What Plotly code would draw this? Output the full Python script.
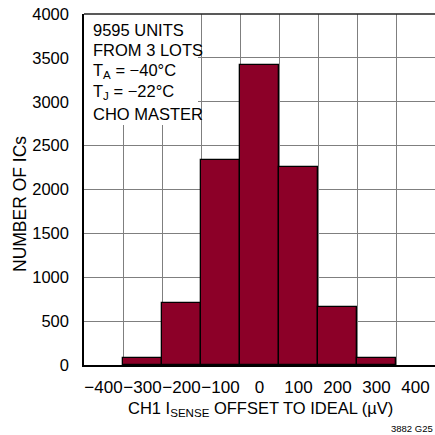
import plotly.graph_objects as go

# Data
bin_centers = [-300, -200, -100, 0, 100, 200, 300]
counts = [76, 703, 2340, 3415, 2260, 662, 76]
x_tick_vals = [-400, -300, -200, -100, 0, 100, 200, 300, 400]
x_tick_text = ["\u2212400", "\u2212300", "\u2212200", "\u2212100", "0", "100", "200", "300", "400"]
x_grid_vals = [-350, -250, -150, -50, 50, 150, 250, 350]
y_tick_vals = [0, 500, 1000, 1500, 2000, 2500, 3000, 3500, 4000]
info_lines = ["9595 UNITS", "FROM 3 LOTS", "T<sub>A</sub> = \u221240\u00b0C",
              "T<sub>J</sub> = \u221222\u00b0C", "CHO MASTER"]

FONT = "Liberation Sans, Arial, sans-serif"
BAR = "#8C0028"
GRID = "#7f7f7f"

L, T, W, H = 84, 14, 351, 351

def px_x(px):
    return (px - L) / W

def px_y(py):
    return (T + H - py) / H

fig = go.Figure()
fig.add_trace(go.Bar(
    x=bin_centers, y=counts, width=100,
    marker=dict(color=BAR, line=dict(color="black", width=1.3)),
    hoverinfo="skip",
))

# white box behind info text
fig.add_shape(type="rect", xref="paper", yref="paper",
              x0=0, x1=px_x(198), y0=px_y(125), y1=1,
              fillcolor="white", line=dict(width=0), layer="above")

line_y = [30, 50, 71, 92, 114]
for txt, yy in zip(info_lines, line_y):
    fig.add_annotation(text=txt, xref="paper", yref="paper",
                       x=px_x(91), y=px_y(yy), xanchor="left", yanchor="middle",
                       showarrow=False, font=dict(family=FONT, size=16.5, color="black"))

fig.add_annotation(text="NUMBER OF ICs", xref="paper", yref="paper",
                   x=px_x(20), y=px_y(204), textangle=-90,
                   xanchor="center", yanchor="middle", showarrow=False,
                   font=dict(family=FONT, size=17.5, color="black"))
fig.add_annotation(text="CH1 I<sub>SENSE</sub> OFFSET TO IDEAL (\u00b5V)", xref="paper", yref="paper",
                   x=px_x(260), y=px_y(409), xanchor="center", yanchor="middle",
                   showarrow=False, font=dict(family=FONT, size=16.5, color="black"))
fig.add_annotation(text="3882 G25", xref="paper", yref="paper",
                   x=px_x(435), y=px_y(428), xanchor="right", yanchor="middle",
                   showarrow=False, font=dict(family=FONT, size=9.5, color="black"))

fig.update_layout(
    width=435, height=435,
    margin=dict(l=L, r=435 - L - W, t=T, b=435 - T - H, pad=0),
    paper_bgcolor="white", plot_bgcolor="white",
    showlegend=False, bargap=0,
    font=dict(family=FONT, size=16, color="black"),
)
fig.update_xaxes(
    range=[-450, 450], tickvals=x_tick_vals, ticktext=x_tick_text,
    showgrid=False, zeroline=False, ticks="", ticklabelstandoff=6,
    tickangle=0, automargin=False,
    showline=True, linecolor="black", linewidth=1.5, mirror=False,
    minor=dict(tickvals=x_grid_vals, showgrid=True, gridcolor=GRID, gridwidth=1.3, ticks=""),
    tickfont=dict(family=FONT, size=17),
)
fig.update_yaxes(
    range=[0, 4000], tickvals=y_tick_vals,
    showgrid=True, gridcolor=GRID, gridwidth=1.3, zeroline=False, ticks="",
    ticklabelstandoff=10, automargin=False,
    showline=True, linecolor="black", linewidth=1.5,
    tickfont=dict(family=FONT, size=16.5),
)
# top border
fig.add_shape(type="line", xref="paper", yref="paper", x0=0, x1=1, y0=1, y1=1,
              line=dict(color="#222222", width=1.5), layer="above")

fig.write_html("out.html", config={"displayModeBar": False},
               post_script="document.body.style.margin='0';")
